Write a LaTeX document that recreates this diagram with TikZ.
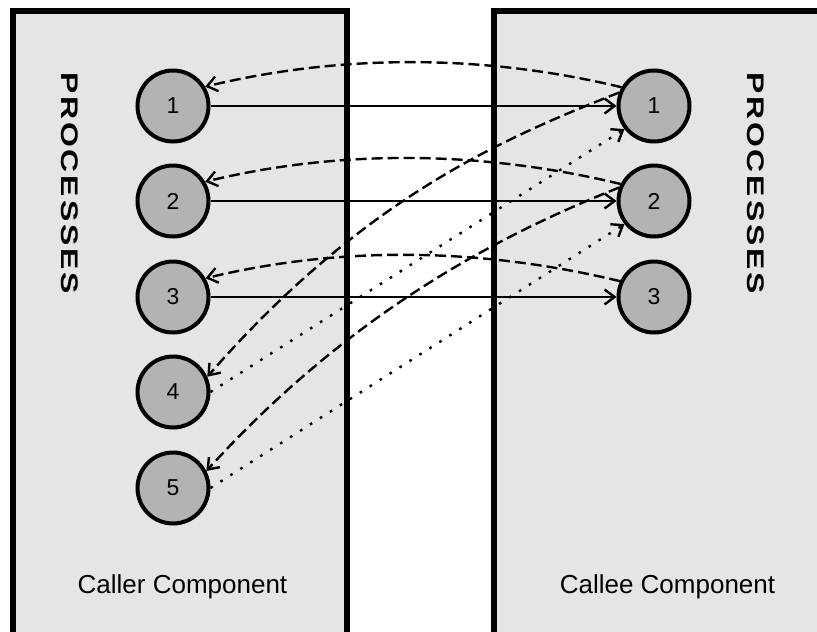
\documentclass[tikz,border=0pt]{standalone}
\usepackage{fontspec}
\setmainfont{Liberation Sans}
\newfontfamily\bannerfont[FakeStretch=1.33,LetterSpace=12]{Liberation Sans Bold}
\usetikzlibrary{arrows.meta}
\definecolor{panelgray}{RGB}{229,229,229}
\definecolor{procgray}{RGB}{179,179,179}

\begin{document}
\begin{tikzpicture}[x=1pt,y=-1pt,
  panel/.style={draw=black, line width=5.5pt, fill=panelgray},
  proc/.style={circle, draw=black, line width=4pt, fill=procgray,
    minimum size=71pt, inner sep=0pt, font=\fontsize{23}{27}\selectfont},
  call/.style={line width=2.4pt, -{Straight Barb[length=10pt,width=15pt]}},
  reply/.style={call, dash pattern=on 11pt off 5pt},
  async/.style={call, dash pattern=on 2.6pt off 9.2pt},
  lbl/.style={font=\fontsize{26}{30}\selectfont, anchor=base, inner sep=0pt},
  banner/.style={font=\bannerfont\fontsize{24}{28}\selectfont,
    rotate=-90, inner sep=0pt}
]
\clip (0,0) rectangle (817,632);

% component panels
\draw[panel] (12.75,10.75) rectangle (347,650);
\draw[panel] (494,10.75) rectangle (840,650);

% panel titles
\node[banner] (callerbanner) at (70,183) {PROCESSES};
\node[banner] (calleebanner) at (756,183) {PROCESSES};
\node[lbl] (callerlbl) at (182.5,593) {Caller Component};
\node[lbl] (calleelbl) at (667.5,593) {Callee Component};

% caller processes
\node[proc] (l1) at (173,106) {1};
\node[proc] (l2) at (173,201) {2};
\node[proc] (l3) at (173,297) {3};
\node[proc] (l4) at (173,392) {4};
\node[proc] (l5) at (173,488) {5};

% callee processes
\node[proc] (r1) at (654,106) {1};
\node[proc] (r2) at (654,201) {2};
\node[proc] (r3) at (654,297) {3};

% synchronous calls
\draw[call] (l1.east) -- (r1.west);
\draw[call] (l2.east) -- (r2.west);
\draw[call] (l3.east) -- (r3.west);

% replies to the same process
\draw[reply] (r1.150) .. controls +(-137,-33) and +(137,-33) .. (l1.31);
\draw[reply] (r2.153) .. controls +(-137,-33) and +(137,-33) .. (l2.31);
\draw[reply] (r3.155) .. controls +(-137,-33) and +(137,-33) .. (l3.30);

% replies to other processes
\draw[reply] (r1.159) .. controls +(-110,44) and +(160,-183) .. (l4.24);
\draw[reply] (r2.159) .. controls +(-110,44) and +(150,-165) .. (l5.27);

% asynchronous calls
\draw[async] (l4.east) -- (r1.218);
\draw[async] (l5.east) -- (r2.218);
\end{tikzpicture}
\end{document}
